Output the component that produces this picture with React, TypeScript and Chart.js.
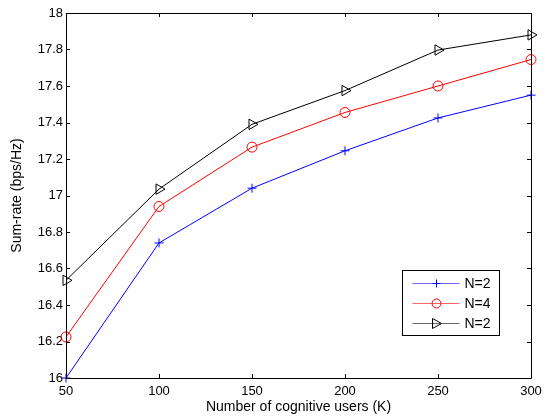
import React, { useEffect, useRef } from "react";
import { Chart, registerables } from "chart.js";
Chart.register(...registerables);

const users = [50, 100, 150, 200, 250, 300];
const seriesA = [16.0, 16.74, 17.04, 17.245, 17.425, 17.55];
const seriesB = [16.225, 16.94, 17.265, 17.455, 17.6, 17.745];
const seriesC = [16.535, 17.035, 17.39, 17.575, 17.797, 17.88];
const legendLabels = ["N=2", "N=4", "N=2"];
const xTicks = [50, 100, 150, 200, 250, 300];
const yTicks = [16, 16.2, 16.4, 16.6, 16.8, 17, 17.2, 17.4, 17.6, 17.8, 18];

const FONT = "'Liberation Sans', Arial, Helvetica, sans-serif";

const frame = {
  id: "frame",
  afterDatasetsDraw(chart: any) {
    const { ctx, chartArea: a, scales } = chart;
    ctx.save();
    ctx.strokeStyle = "#000";
    ctx.lineWidth = 1;
    ctx.beginPath();
    ctx.rect(Math.round(a.left) + 0.5, Math.round(a.top) + 0.5, Math.round(a.right - a.left), Math.round(a.bottom - a.top));
    ctx.stroke();
    const L = 4;
    ctx.beginPath();
    xTicks.forEach((v) => {
      const x = Math.round(scales.x.getPixelForValue(v)) + 0.5;
      ctx.moveTo(x, a.bottom); ctx.lineTo(x, a.bottom - L);
      ctx.moveTo(x, a.top); ctx.lineTo(x, a.top + L);
    });
    yTicks.forEach((v) => {
      const y = Math.round(scales.y.getPixelForValue(v)) + 0.5;
      ctx.moveTo(a.left, y); ctx.lineTo(a.left + L, y);
      ctx.moveTo(a.right, y); ctx.lineTo(a.right - L, y);
    });
    ctx.stroke();
    ctx.restore();
  },
  afterDraw(chart: any) {
    const { ctx } = chart;
    const bx = 402.5, by = 270.5, bw = 97, bh = 65;
    ctx.save();
    ctx.fillStyle = "#fff";
    ctx.fillRect(bx, by, bw, bh);
    ctx.strokeStyle = "#000";
    ctx.lineWidth = 1;
    ctx.strokeRect(bx, by, bw, bh);
    const dsets = chart.data.datasets;
    const rows = [by + 13, by + 33, by + 53];
    dsets.forEach((d: any, i: number) => {
      const y = rows[i];
      ctx.globalAlpha = 0.6;
      ctx.strokeStyle = d.borderColor;
      ctx.lineWidth = 1;
      ctx.beginPath();
      ctx.moveTo(bx + 10, y); ctx.lineTo(bx + 57, y);
      ctx.stroke();
      ctx.globalAlpha = 1;
      const cx = bx + 34;
      ctx.beginPath();
      if (d.pointStyle === "cross") {
        ctx.moveTo(cx - 4, y); ctx.lineTo(cx + 4, y);
        ctx.moveTo(cx, y - 4); ctx.lineTo(cx, y + 4);
        ctx.stroke();
      } else if (d.pointStyle === "circle") {
        ctx.arc(cx, y, 4.5, 0, Math.PI * 2);
        ctx.stroke();
      } else {
        ctx.moveTo(cx - 4, y - 5); ctx.lineTo(cx + 5, y); ctx.lineTo(cx - 4, y + 5); ctx.closePath();
        ctx.stroke();
      }
      ctx.fillStyle = "#000";
      ctx.font = `14px ${FONT}`;
      ctx.textBaseline = "middle";
      ctx.fillText(legendLabels[i], bx + 62, y + 1);
    });
    ctx.restore();
  },
};

export default function App() {
  const ref = useRef<HTMLCanvasElement>(null);
  useEffect(() => {
    document.body.style.margin = "0";
    const mk = (label: string, data: number[], color: string, style: string, r: number, rot = 0) => ({
      label,
      data: users.map((x, i) => ({ x, y: data[i] })),
      borderColor: color,
      backgroundColor: "rgba(0,0,0,0)",
      borderWidth: 1,
      pointStyle: style,
      pointRadius: r,
      pointBorderWidth: 1,
      pointBorderColor: color,
      pointBackgroundColor: "rgba(0,0,0,0)",
      pointRotation: rot,
      tension: 0,
      clip: false as any,
    });
    const chart = new Chart(ref.current!, {
      type: "line",
      data: {
        datasets: [
          mk(legendLabels[0], seriesA, "#0000ff", "cross", 4.5),
          mk(legendLabels[1], seriesB, "#ff0000", "circle", 5),
          mk(legendLabels[2], seriesC, "#000000", "triangle", 6, 90),
        ] as any,
      },
      options: {
        animation: false,
        responsive: false,
        layout: { padding: { top: 13, right: 17, left: 0, bottom: 0 } },
        plugins: { legend: { display: false }, tooltip: { enabled: false } },
        scales: {
          x: {
            type: "linear",
            min: 50,
            max: 300,
            afterBuildTicks: (s: any) => { s.ticks = xTicks.map((v) => ({ value: v })); },
            afterFit: (s: any) => { s.height = 41; },
            grid: { display: false, drawTicks: false },
            border: { display: false },
            ticks: { color: "#000", font: { family: FONT, size: 13 }, padding: 6, maxRotation: 0 },
            title: { display: true, text: "Number of cognitive users (K)", color: "#000", font: { family: FONT, size: 14 }, padding: { top: 0, bottom: 3.6 } },
          },
          y: {
            type: "linear",
            min: 16,
            max: 18,
            afterBuildTicks: (s: any) => { s.ticks = yTicks.map((v) => ({ value: v })); },
            afterFit: (s: any) => { s.width = 66; },
            grid: { display: false, drawTicks: false },
            border: { display: false },
            ticks: {
              color: "#000",
              font: { family: FONT, size: 13 },
              padding: 3,
              callback: (v: any) => String(Number(Number(v).toFixed(1))),
            },
            title: { display: true, text: "Sum-rate (bps/Hz)", color: "#000", font: { family: FONT, size: 14 }, padding: { top: 8.6, bottom: 0 } },
          },
        },
      },
      plugins: [frame],
    });
    return () => chart.destroy();
  }, []);
  return (
    <div style={{ width: 548, height: 419, background: "#fff" }}>
      <canvas ref={ref} width={548} height={419} style={{ display: "block" }} />
    </div>
  );
}
